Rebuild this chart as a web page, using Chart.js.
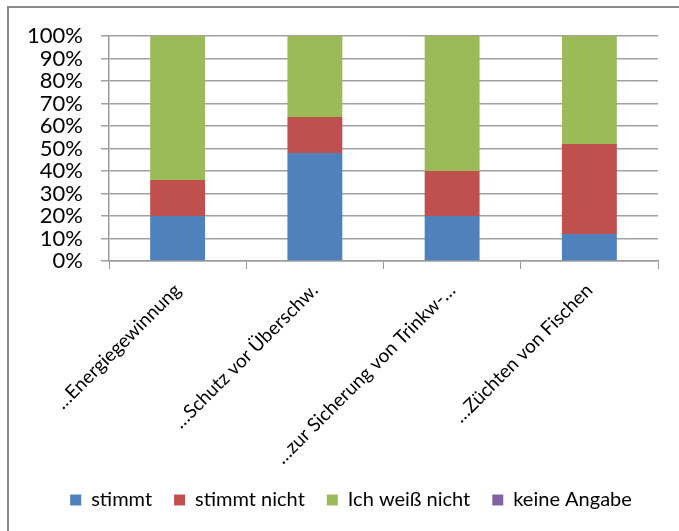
<!DOCTYPE html>
<html lang="de">
<head>
<meta charset="UTF-8">
<title>Stacked 100% bar</title>
<script src="https://cdn.jsdelivr.net/npm/chart.js@4.4.0/dist/chart.umd.min.js"></script>
<style>
    html, body { margin:0; padding:0; background:#fff; }
    #board { width:679px; height:531px; }
</style>
</head>
<body>
<div id="board">
    <canvas id="chart1" width="679" height="531"></canvas>
</div>
<script>
// categories and series (percent)
const categories = ['…Energiegewinnung', '…Schutz vor Überschw.', '…zur Sicherung von Trinkw-…', '…Züchten von Fischen'];
const stimmt      = [20, 48, 20, 12];
const stimmtNicht = [16, 16, 20, 40];
const weissNicht  = [64, 36, 60, 48];
const keineAngabe = [0, 0, 0, 0];
const yTicks = [0, 10, 20, 30, 40, 50, 60, 70, 80, 90, 100];

const FONT = 'Lato, "Liberation Sans", sans-serif';

// frame around the chart (only top and left edge are visible in the crop)
const framePlugin = {
    id: 'frame',
    afterLayout(chart) {
        // legend sits a bit right of the canvas centre in the original
        chart.legend.left += 22;
        chart.legend.right += 22;
    },
    beforeDraw(chart) {
        const c = chart.ctx;
        c.save();
        c.strokeStyle = '#8a8a8a';
        c.lineWidth = 2;
        c.beginPath();
        c.moveTo(chart.width, 7);
        c.lineTo(8, 7);
        c.lineTo(8, chart.height);
        c.stroke();
        c.restore();
    }
};

new Chart(document.getElementById('chart1').getContext('2d'), {
    type: 'bar',
    data: {
        labels: categories,
        datasets: [
            { label: 'stimmt',         data: stimmt,      backgroundColor: '#4F81BD' },
            { label: 'stimmt nicht',   data: stimmtNicht, backgroundColor: '#C0504D' },
            { label: 'Ich weiß nicht', data: weissNicht,  backgroundColor: '#9BBB59' },
            { label: 'keine Angabe',   data: keineAngabe, backgroundColor: '#8064A2' }
        ]
    },
    options: {
        responsive: false,
        animation: false,
        datasets: { bar: { barPercentage: 0.4, categoryPercentage: 1.0 } },
        layout: { padding: { left: 0, right: 21, top: 36, bottom: 11 } },
        plugins: {
            legend: {
                position: 'bottom',
                labels: {
                    color: '#000',
                    boxWidth: 11, boxHeight: 11,
                    padding: 22,
                    font: { family: FONT, size: 20 }
                }
            },
            tooltip: { enabled: false }
        },
        scales: {
            x: {
                stacked: true,
                afterFit(scale) { scale.height = 207; },
                grid: { display: true, drawOnChartArea: false, drawTicks: true, tickLength: 8, color: '#9a9a9a', offset: true },
                border: { color: '#9a9a9a', width: 1.5 },
                ticks: {
                    color: '#000',
                    padding: 10,
                    minRotation: 45, maxRotation: 45,
                    font: { family: FONT, size: 19 },
                    autoSkip: false
                }
            },
            y: {
                stacked: true,
                min: 0, max: 100,
                afterFit(scale) { scale.width = 109; },
                afterBuildTicks(scale) { scale.ticks = yTicks.map(v => ({ value: v })); },
                grid: { color: '#a0a0a0', lineWidth: 1.5, tickLength: 8 },
                border: { color: '#9a9a9a', width: 1.5 },
                ticks: {
                    color: '#000',
                    padding: 18,
                    autoSkip: false,
                    font: { family: FONT, size: 22 },
                    callback: v => v + '%'
                }
            }
        }
    },
    plugins: [framePlugin]
});
</script>
</body>
</html>
